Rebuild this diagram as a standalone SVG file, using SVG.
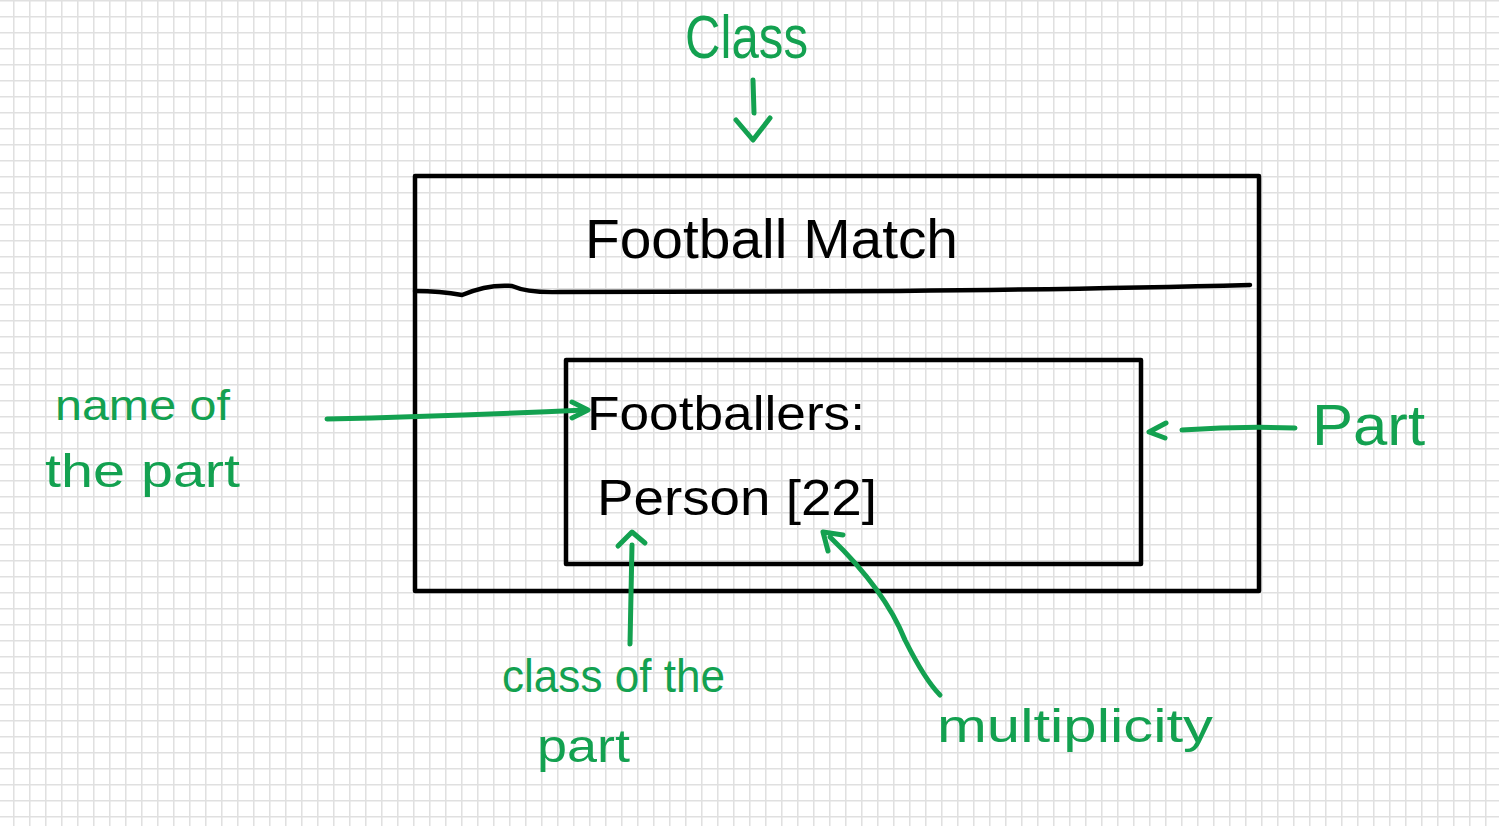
<svg xmlns="http://www.w3.org/2000/svg" width="1499" height="826" viewBox="0 0 1499 826">
  <defs>
    <pattern id="grid" x="13" y="0" width="16" height="16" patternUnits="userSpaceOnUse">
      <path d="M0.75 0V16M0 0.75H16" stroke="#e0e0e0" stroke-width="1.6" fill="none"/>
    </pattern>
    <style>
      .ink { fill: none; stroke: #000; stroke-width: 4.5; stroke-linecap: round; stroke-linejoin: round; }
      .pen { fill: none; stroke: #13a150; stroke-width: 5; stroke-linecap: round; stroke-linejoin: round; }
      .lbl { fill: #13a150; font-family: "Liberation Sans", "DejaVu Sans", sans-serif; }
      .txt { fill: #000; font-family: "Liberation Sans", "DejaVu Sans", sans-serif; }
    </style>
  </defs>

  <!-- squared paper -->
  <rect width="1499" height="826" fill="#fff"/>
  <rect width="1499" height="826" fill="url(#grid)"/>

  <!-- class box: Football Match -->
  <g id="class-football-match">
    <rect class="ink" x="415" y="176" width="844" height="415"/>
    <path class="ink" stroke-width="5" d="M415 291 Q440 291 462 295 Q488 284 512 286 Q528 293 560 292 L900 291 Q1100 289 1250 285"/>
    <text class="txt" x="585" y="258" font-size="56" textLength="373" lengthAdjust="spacingAndGlyphs">Football Match</text>
  </g>

  <!-- part box: Footballers -->
  <g id="part-footballers">
    <rect class="ink" x="566" y="360" width="575" height="204"/>
    <text class="txt" x="587" y="430" font-size="48" textLength="278" lengthAdjust="spacingAndGlyphs">Footballers:</text>
    <text class="txt" x="597" y="515" font-size="50" textLength="280" lengthAdjust="spacingAndGlyphs">Person [22]</text>
  </g>

  <!-- annotations -->
  <g id="label-class">
    <text class="lbl" x="685" y="58" font-size="62" textLength="123" lengthAdjust="spacingAndGlyphs">Class</text>
  </g>
  <g id="label-name-of-part">
    <text class="lbl" x="55" y="420" font-size="42" textLength="175" lengthAdjust="spacingAndGlyphs">name of</text>
    <text class="lbl" x="45" y="487" font-size="46" textLength="195" lengthAdjust="spacingAndGlyphs">the part</text>
  </g>
  <g id="label-part">
    <text class="lbl" x="1312" y="445" font-size="58" textLength="113" lengthAdjust="spacingAndGlyphs">Part</text>
  </g>
  <g id="label-class-of-part">
    <text class="lbl" x="502" y="692" font-size="46" textLength="223" lengthAdjust="spacingAndGlyphs">class of the</text>
    <text class="lbl" x="537" y="762" font-size="46" textLength="93" lengthAdjust="spacingAndGlyphs">part</text>
  </g>
  <g id="label-multiplicity">
    <text class="lbl" x="937" y="742" font-size="46" textLength="276" lengthAdjust="spacingAndGlyphs">multiplicity</text>
  </g>

  <!-- connectors -->
  <g id="connectors">
    <path class="pen" d="M753 80 L754 113"/>
    <path class="pen" d="M736 120 L753 140 L770 118"/>

    <path class="pen" d="M327 419 Q450 416 585 410"/>
    <path class="pen" d="M572 402 L588 410 L572 418"/>

    <path class="pen" d="M1295 428 Q1240 426 1182 430"/>
    <path class="pen" d="M1166 423 L1149 432 L1165 438"/>

    <path class="pen" d="M630 644 Q631 600 632 545"/>
    <path class="pen" d="M618 546 L632 532 L645 543"/>

    <path class="pen" d="M940 695 Q925 680 905 640 Q885 590 830 537"/>
    <path class="pen" d="M828 551 L823 532 L843 535"/>
  </g>
</svg>
